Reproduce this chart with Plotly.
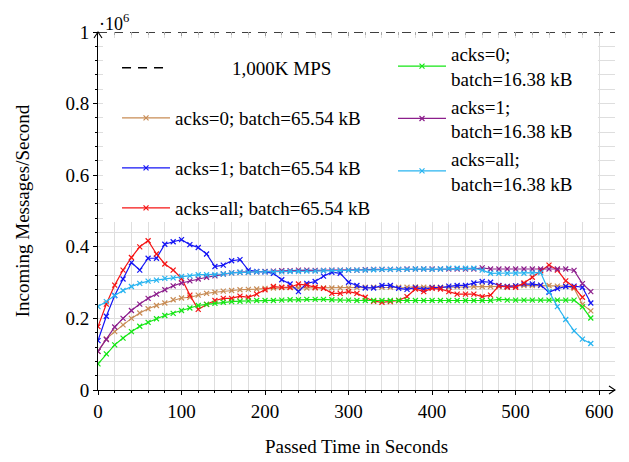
import plotly.graph_objects as go

# ---- data (values in units of 10^6 messages/second) ----
time_s = list(range(0, 600, 10))
time_red = list(range(0, 590, 10))
limit_x = [0, 619]
limit_y = [1.0, 1.0]

acks0_65 = [0.108, 0.143, 0.163, 0.182, 0.200, 0.215, 0.227, 0.236, 0.243, 0.252,
            0.257, 0.259, 0.265, 0.270, 0.273, 0.276, 0.278, 0.280, 0.281, 0.282,
            0.284, 0.285, 0.286, 0.286, 0.285, 0.285, 0.285, 0.285, 0.285, 0.285,
            0.285, 0.286, 0.287, 0.287, 0.287, 0.287, 0.287, 0.287, 0.288, 0.287,
            0.287, 0.287, 0.287, 0.288, 0.288, 0.289, 0.289, 0.289, 0.289, 0.289,
            0.291, 0.292, 0.292, 0.292, 0.292, 0.290, 0.290, 0.284, 0.239, 0.221]

acks1_65 = [0.138, 0.206, 0.264, 0.310, 0.356, 0.335, 0.368, 0.368, 0.407, 0.414,
            0.420, 0.406, 0.398, 0.380, 0.345, 0.349, 0.361, 0.364, 0.335, 0.331,
            0.330, 0.326, 0.308, 0.296, 0.275, 0.298, 0.303, 0.318, 0.329, 0.326,
            0.301, 0.292, 0.285, 0.285, 0.292, 0.292, 0.284, 0.281, 0.286, 0.281,
            0.286, 0.286, 0.290, 0.292, 0.292, 0.299, 0.303, 0.301, 0.292, 0.289,
            0.291, 0.296, 0.296, 0.293, 0.273, 0.283, 0.289, 0.290, 0.287, 0.243]

acksall_65 = [0.177, 0.240, 0.293, 0.335, 0.370, 0.400, 0.417, 0.380, 0.352, 0.335,
              0.312, 0.265, 0.225, 0.239, 0.250, 0.256, 0.256, 0.262, 0.259, 0.268,
              0.280, 0.289, 0.287, 0.287, 0.296, 0.293, 0.287, 0.284, 0.270, 0.270,
              0.275, 0.270, 0.259, 0.248, 0.245, 0.247, 0.250, 0.261, 0.282, 0.275,
              0.284, 0.282, 0.275, 0.268, 0.268, 0.268, 0.261, 0.265, 0.291, 0.287,
              0.287, 0.299, 0.315, 0.333, 0.349, 0.335, 0.305, 0.287, 0.259]

acks0_16 = [0.073, 0.101, 0.126, 0.145, 0.163, 0.178, 0.189, 0.199, 0.208, 0.214,
            0.222, 0.229, 0.236, 0.239, 0.242, 0.245, 0.247, 0.248, 0.249, 0.250,
            0.250, 0.250, 0.251, 0.252, 0.252, 0.253, 0.253, 0.253, 0.252, 0.251,
            0.251, 0.250, 0.250, 0.250, 0.250, 0.250, 0.250, 0.250, 0.250, 0.250,
            0.250, 0.250, 0.250, 0.250, 0.250, 0.250, 0.250, 0.250, 0.253, 0.251,
            0.251, 0.251, 0.251, 0.251, 0.251, 0.251, 0.251, 0.251, 0.232, 0.201]

acks1_16 = [0.108, 0.141, 0.176, 0.200, 0.222, 0.240, 0.256, 0.268, 0.280, 0.291,
            0.299, 0.305, 0.310, 0.315, 0.319, 0.324, 0.327, 0.329, 0.329, 0.330,
            0.331, 0.332, 0.333, 0.333, 0.335, 0.335, 0.334, 0.334, 0.335, 0.335,
            0.335, 0.335, 0.336, 0.337, 0.337, 0.337, 0.337, 0.338, 0.338, 0.338,
            0.338, 0.338, 0.338, 0.338, 0.338, 0.338, 0.341, 0.338, 0.338, 0.338,
            0.338, 0.338, 0.338, 0.338, 0.338, 0.338, 0.338, 0.334, 0.297, 0.275]

acksall_16 = [0.233, 0.247, 0.264, 0.278, 0.289, 0.298, 0.304, 0.307, 0.312, 0.313,
              0.317, 0.319, 0.322, 0.322, 0.322, 0.324, 0.327, 0.329, 0.329, 0.330,
              0.330, 0.330, 0.330, 0.331, 0.331, 0.332, 0.332, 0.333, 0.334, 0.334,
              0.335, 0.335, 0.335, 0.336, 0.337, 0.337, 0.337, 0.337, 0.338, 0.338,
              0.337, 0.338, 0.340, 0.340, 0.340, 0.340, 0.335, 0.326, 0.326, 0.326,
              0.326, 0.326, 0.327, 0.328, 0.275, 0.233, 0.197, 0.165, 0.142, 0.130]

NBSP = "\u00a0"
names = {
    "limit": NBSP * 12 + "1,000K MPS",
    "a0_65": "acks=0; batch=65.54 kB",
    "a1_65": "acks=1; batch=65.54 kB",
    "aa_65": "acks=all; batch=65.54 kB",
    "a0_16": "acks=0;<br>batch=16.38 kB",
    "a1_16": "acks=1;<br>batch=16.38 kB",
    "aa_16": "acks=all;<br>batch=16.38 kB",
}

FONT = "Liberation Serif, Times New Roman, Times, DejaVu Serif, serif"
FS = 19
LFS = 19

fig = go.Figure()

def add_series(x, y, name, color, legend):
    fig.add_trace(go.Scatter(
        x=x, y=y, name=name, mode="lines+markers", legend=legend,
        legendgroup=name,
        line=dict(color=color, width=1.2),
        marker=dict(symbol="x-thin", size=5, line=dict(color=color, width=1.2)),
    ))

fig.add_trace(go.Scatter(
    x=limit_x, y=limit_y, name=names["limit"], mode="lines", legend="legend",
    legendgroup="limit", line=dict(color="black", width=1.5, dash="9px,7px")))
add_series(time_s, acks0_65, names["a0_65"], "rgb(200,140,85)", "legend")
add_series(time_s, acks1_65, names["a1_65"], "rgb(20,20,245)", "legend")
add_series(time_red, acksall_65, names["aa_65"], "rgb(245,20,20)", "legend3")
add_series(time_s, acks0_16, names["a0_16"], "rgb(20,230,20)", "legend2")
add_series(time_s, acks1_16, names["a1_16"], "rgb(140,30,140)", "legend2")
add_series(time_s, acksall_16, names["aa_16"], "rgb(40,180,240)", "legend2")

# invisible trace for the top tick axis
fig.add_trace(go.Scatter(x=[], y=[], xaxis="x2", showlegend=False, hoverinfo="skip"))

GRID = "#dedede"
legend_common = dict(
    bgcolor="rgba(0,0,0,0)", borderwidth=0, font=dict(family=FONT, size=LFS, color="black"),
    itemwidth=48, traceorder="grouped", xanchor="left", yanchor="top", valign="middle",
)

# axis arrowheads (pixel-sized paths anchored at the axis ends)
arrow_x = dict(type="path", xref="paper", yref="paper", xsizemode="pixel", ysizemode="pixel",
               xanchor=1, yanchor=0, path="M-6,4 L0,0 L-6,-4", line=dict(color="black", width=1.1),
               layer="above")
arrow_y = dict(type="path", xref="paper", yref="paper", xsizemode="pixel", ysizemode="pixel",
               xanchor=0, yanchor=1, path="M-4,-6 L0,0 L4,-6", line=dict(color="black", width=1.1),
               layer="above")

fig.update_layout(
    width=629, height=462,
    margin=dict(l=90, r=22, t=24, b=80, pad=0),
    paper_bgcolor="white", plot_bgcolor="white",
    font=dict(family=FONT, size=FS, color="black"),
    xaxis=dict(
        range=[0, 619], tick0=0, dtick=100, showline=True, linecolor="black", linewidth=1,
        ticks="outside", ticklen=4, tickcolor="black", showgrid=True, gridcolor=GRID, gridwidth=1,
        zeroline=False, tickfont=dict(family=FONT, size=FS), automargin=False,
        minor=dict(dtick=20, tick0=0, ticks="outside", ticklen=2, tickcolor="black",
                   showgrid=True, gridcolor=GRID, gridwidth=1),
        title=dict(text="Passed Time in Seconds", font=dict(family=FONT, size=FS), standoff=18),
    ),
    xaxis2=dict(
        overlaying="x", side="top", matches="x", anchor="y", showline=False,
        ticks="inside", ticklen=4, tickcolor="#999", showticklabels=False, showgrid=False,
        zeroline=False, tick0=0, dtick=100, automargin=False,
        minor=dict(dtick=20, tick0=0, ticks="inside", ticklen=3, tickcolor="#aaa", showgrid=False),
    ),
    yaxis=dict(
        range=[0, 1.0], tick0=0, dtick=0.2, showline=True, linecolor="black", linewidth=1,
        ticks="outside", ticklen=4, tickcolor="black", showgrid=True, gridcolor=GRID, gridwidth=1,
        zeroline=False, tickfont=dict(family=FONT, size=FS), automargin=False,
        minor=dict(dtick=0.04, tick0=0, ticks="outside", ticklen=2, tickcolor="black",
                   showgrid=True, gridcolor=GRID, gridwidth=1),
        title=dict(text="Incoming Messages/Second", font=dict(family=FONT, size=FS), standoff=30),
    ),
    legend=dict(x=0.0368, y=0.9525, tracegroupgap=22.3, **legend_common),
    legend2=dict(x=0.5706, y=0.992, tracegroupgap=0, **legend_common),
    legend3=dict(x=0.0368, y=0.5615, tracegroupgap=0, **legend_common),
    shapes=[dict(type="rect", xref="paper", yref="paper", x0=0.0097, x1=0.967, y0=0.469, y1=0.983,
                 fillcolor="white", line=dict(width=0), layer="above"),
            arrow_x, arrow_y],
    annotations=[
        dict(xref="paper", yref="paper", x=0, y=1, xanchor="left", yanchor="bottom",
             text="\u00b710<sup>6</sup>", showarrow=False, yshift=-3, borderpad=0,
             font=dict(family=FONT, size=18)),
    ],
    showlegend=True,
)

fig.write_html("out.html")
